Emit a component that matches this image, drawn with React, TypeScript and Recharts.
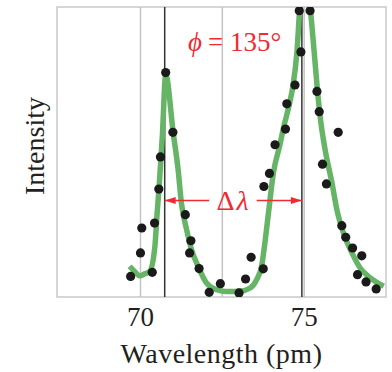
import React from 'react';
import {
  ComposedChart, Line, Scatter, XAxis, YAxis, ReferenceLine, ReferenceArea, ReferenceDot,
} from 'recharts';

// Measured data points (wavelength pm, intensity arb.)
const dotWavelength = [
  69.70, 70.00, 70.04, 70.36, 70.43, 70.56, 70.61, 70.77, 70.99, 71.37,
  71.50, 71.54, 71.79, 72.10, 72.44, 73.01, 73.21, 73.38, 73.75, 73.77,
  73.94, 74.11, 74.43, 74.47, 74.72, 74.85, 74.90, 75.18, 75.39, 75.46,
  75.56, 75.68, 76.04, 76.15, 76.27, 76.48, 76.63, 76.76, 76.89, 77.20,
];
const dotIntensity = [
  7.1, 15.2, 23.8, 8.5, 25.5, 37.2, 48.3, 77.4, 56.8, 28.4,
  15.2, 19.4, 9.8, 1.6, 4.6, 1.4, 6.2, 13.7, 9.7, 38.1,
  42.6, 52.5, 57.9, 66.6, 73.1, 98.7, 84.5, 98.7, 70.9, 63.9,
  45.8, 39.0, 56.8, 24.6, 20.6, 16.9, 7.7, 14.2, 5.2, 2.8,
];

// Fitted curve
const curveWavelength = [
  69.67, 69.83, 69.98, 70.13, 70.28, 70.44, 70.51, 70.57, 70.67, 70.77,
  71.00, 71.15, 71.25, 71.41, 71.56, 71.76, 72.02, 72.33, 72.63, 73.04,
  73.35, 73.55, 73.70, 73.80, 73.91, 74.06, 74.26, 74.36, 74.55, 74.66,
  74.78, 74.87, 75.03, 75.18, 75.30, 75.41, 75.52, 75.64, 75.85, 76.00,
  76.20, 76.46, 76.71, 77.02, 77.43,
];
const curveIntensity = [
  10.6, 8.7, 7.3, 8.0, 8.8, 17.4, 29.1, 38.1, 56.0, 76.7,
  56.6, 43.9, 32.4, 23.2, 16.3, 10.6, 4.8, 2.5, 1.9, 2.0,
  3.1, 6.0, 10.6, 18.6, 29.0, 42.8, 52.5, 57.9, 66.6, 73.0,
  84.5, 100.1, 110, 100.1, 85.3, 70.8, 59.4, 50.8, 39.3, 30.1,
  22.1, 15.2, 10.0, 6.6, 3.7,
];

const xTicks = [70, 75];
const gridLines = [70, 72.5, 75];
const peakLines = [70.74, 74.93];
const xDomain = [67.45, 77.5];
const yDomain = [0, 100];
const annotationY = 33.3;
const phiPos = { x: 72.86, y: 88 };
const deltaPos = { x: 72.84, y: 33.3 };
const leftArrow = [70.74, 72.1];
const rightArrow = [73.55, 74.93];

const dots = dotWavelength.map((w, i) => ({ wl: w, I: dotIntensity[i] }));
const curve = curveWavelength.map((w, i) => ({ wl: w, I: curveIntensity[i] }));

const RED = '#ee2a33';
const TEXT = '#231f20';
const FONT = 'Liberation Serif';

const arrowShape = (dir: 'left' | 'right') => (p: any) => {
  const { x1, y1, x2, y2 } = p;
  const tipX = dir === 'left' ? Math.min(x1, x2) : Math.max(x1, x2);
  const s = dir === 'left' ? 1 : -1;
  return (
    <g>
      <line x1={x1} y1={y1} x2={x2} y2={y2} stroke={RED} strokeWidth={1.5} />
      <polygon
        points={`${tipX},${y1} ${tipX + s * 11},${y1 - 3.5} ${tipX + s * 11},${y1 + 3.5}`}
        fill={RED}
      />
    </g>
  );
};

const YLabel = (props: any) => {
  const vb = props.viewBox || {};
  const cx = (vb.x ?? 0) + 34;
  const cy = 146;
  return (
    <text
      x={cx}
      y={cy}
      transform={`rotate(-90, ${cx}, ${cy})`}
      textAnchor="middle"
      dominantBaseline="central"
      fontFamily={FONT}
      fontSize={28}
      fill={TEXT}
    >
      Intensity
    </text>
  );
};

const PhiLabel = (p: any) => (
  <g>
    <text
      x={p.cx - 32}
      y={p.cy}
      textAnchor="end"
      dominantBaseline="central"
      fontFamily={FONT}
      fontStyle="italic"
      fontSize={27}
      fill={RED}
    >
      ϕ
    </text>
    <text
      x={p.cx - 26}
      y={p.cy}
      textAnchor="start"
      dominantBaseline="central"
      fontFamily={FONT}
      fontSize={27}
      fill={RED}
    >
      = 135°
    </text>
  </g>
);

const DeltaLabel = (p: any) => (
  <g>
    <text
      x={p.cx + 1}
      y={p.cy}
      textAnchor="end"
      dominantBaseline="central"
      fontFamily={FONT}
      fontSize={28}
      fill={RED}
    >
      Δ
    </text>
    <text
      x={p.cx + 3}
      y={p.cy}
      textAnchor="start"
      dominantBaseline="central"
      fontFamily={FONT}
      fontStyle="italic"
      fontSize={28}
      fill={RED}
    >
      λ
    </text>
  </g>
);

export default function App() {
  return (
    <div style={{ position: 'absolute', left: 0, top: 0, background: '#fff' }}>
      <ComposedChart
        width={392}
        height={372}
        margin={{ top: 7, right: 6, left: 0, bottom: 0 }}
      >
        <XAxis
          type="number"
          dataKey="wl"
          domain={xDomain}
          ticks={xTicks}
          axisLine={false}
          tickLine={false}
          height={75}
          tickMargin={4}
          tick={{ fontFamily: FONT, fontSize: 27, fill: TEXT }}
          allowDataOverflow
          label={{
            value: 'Wavelength (pm)',
            position: 'insideBottom',
            offset: 9,
            fontFamily: FONT,
            fontSize: 28,
            letterSpacing: 0.5,
            fill: TEXT,
          }}
        />
        <YAxis
          type="number"
          domain={yDomain}
          allowDataOverflow
          width={57}
          tick={false}
          axisLine={false}
          tickLine={false}
          label={<YLabel />}
        />
        <ReferenceArea
          x1={xDomain[0]}
          x2={xDomain[1]}
          y1={yDomain[0]}
          y2={yDomain[1]}
          fill="none"
          stroke="#c9c9c9"
          strokeWidth={1.5}
          fillOpacity={0}
        />
        {gridLines.map((g) => (
          <ReferenceLine key={`g${g}`} x={g} stroke="#c4c4c4" strokeWidth={1.5} />
        ))}
        {peakLines.map((g) => (
          <ReferenceLine key={`p${g}`} x={g} stroke="#333" strokeWidth={1.5} />
        ))}
        <Line
          data={curve}
          dataKey="I"
          type="monotone"
          stroke="#66b466"
          strokeWidth={5.5}
          dot={false}
          activeDot={false}
          isAnimationActive={false}
        />
        <Scatter
          data={dots}
          dataKey="I"
          fill="#1a1a1a"
          shape={(p: any) => <circle cx={p.cx} cy={p.cy} r={4.6} fill="#1a1a1a" />}
          isAnimationActive={false}
        />
        <ReferenceLine
          segment={[{ x: leftArrow[0], y: annotationY }, { x: leftArrow[1], y: annotationY }]}
          stroke={RED}
          shape={arrowShape('left')}
        />
        <ReferenceLine
          segment={[{ x: rightArrow[0], y: annotationY }, { x: rightArrow[1], y: annotationY }]}
          stroke={RED}
          shape={arrowShape('right')}
        />
        <ReferenceDot x={phiPos.x} y={phiPos.y} r={0} shape={PhiLabel} />
        <ReferenceDot x={deltaPos.x} y={deltaPos.y} r={0} shape={DeltaLabel} />
      </ComposedChart>
    </div>
  );
}
